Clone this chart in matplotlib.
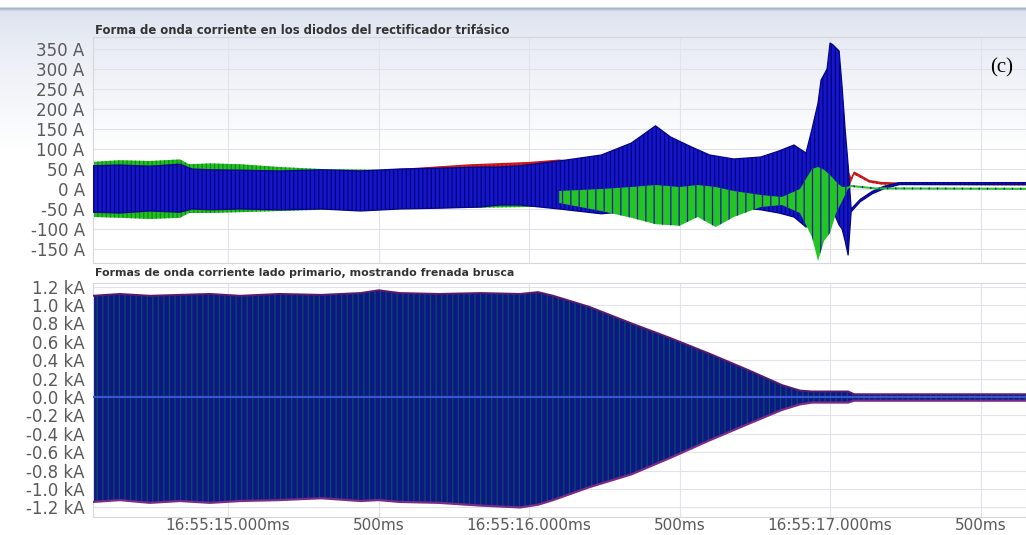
import numpy as np
import matplotlib.pyplot as plt

# time axis: seconds after 16:55
t_min, t_max = 14.551, 17.651
tick_s = [15.0, 15.5, 16.0, 16.5, 17.0, 17.5]
tick_labels = ['16:55:15.000ms', '500ms', '16:55:16.000ms', '500ms', '16:55:17.000ms', '500ms']

# --- rectifier diode currents (A), envelope of each trace ---
blue_t = [14.551, 14.64, 14.74, 14.84, 14.88, 14.94, 15.04, 15.17, 15.31, 15.44, 15.57,
          15.70, 15.84, 15.90, 15.97, 16.10, 16.24, 16.34, 16.42, 16.47, 16.54, 16.60,
          16.68, 16.77, 16.83, 16.88, 16.92, 16.94, 16.96, 16.97, 16.99, 17.00, 17.01,
          17.03, 17.04, 17.05, 17.06, 17.07, 17.10, 17.14, 17.18, 17.23, 17.651]
blue_hi = [58, 60, 57, 62, 50, 48, 47, 45, 48, 45, 50,
           52, 55, 55, 58, 70, 85, 115, 158, 130, 105, 85,
           75, 80, 95, 110, 90, 150, 215, 272, 300, 365, 360,
           345, 255, 150, 60, -50, -26, -6, 7, 16, 16]
blue_lo = [-58, -60, -55, -58, -50, -52, -50, -52, -50, -55, -50,
           -48, -45, -40, -40, -50, -62, -55, -52, -50, -55, -48,
           -45, -52, -60, -70, -95, -90, -80, -60, -50, -70, -55,
           -90, -100, -130, -165, -57, -32, -12, 1, 11, 11]

red_t = [14.551, 15.0, 15.5, 15.80, 15.90, 16.00, 16.10, 16.20, 16.40, 16.60, 16.80,
         16.95, 17.00, 17.05, 17.07, 17.08, 17.10, 17.13, 17.17, 17.25, 17.651]
red_hi = [40, 42, 45, 60, 63, 66, 72, 66, 120, 70, 75,
          80, 150, 60, 25, 42, 34, 21, 16, 14, 13]
red_lo = [-35, -35, -35, -35, -30, -30, -35, -40, -40, -40, -45,
          -60, -60, -40, 18, 36, 28, 16, 11, 10, 9]

green_t = [14.551, 14.64, 14.74, 14.84, 14.87, 14.94, 15.04, 15.17, 15.31, 15.50,
           15.70, 16.00, 16.10]
green_hi = [68, 72, 70, 74, 62, 64, 62, 55, 50, 48, 48, 50, 40]
green_lo = [-70, -72, -75, -72, -60, -60, -58, -55, -52, -50, -48, -45, -40]

# green trace where it shows over the blue one (braking transient)
green_burst_t = [16.10, 16.24, 16.34, 16.42, 16.50, 16.56, 16.62, 16.68, 16.77, 16.84,
                 16.90, 16.94, 16.96, 16.98, 17.00, 17.02, 17.04, 17.06, 17.07, 17.15, 17.651]
green_burst_hi = [-5, 0, 5, 10, 5, 10, 5, -5, -15, -20,
                  0, 50, 55, 48, 35, 18, 5, 6, 10, 4, 3]
green_burst_lo = [-35, -55, -72, -88, -92, -70, -95, -70, -45, -40,
                  -60, -120, -180, -130, -110, -60, -30, 1, 5, -1, -2]

top_ticks = [350, 300, 250, 200, 150, 100, 50, 0, -50, -100, -150]

# --- primary side current (kA), envelope ---
prim_t = [14.551, 14.64, 14.74, 14.84, 14.94, 15.04, 15.17, 15.31, 15.44, 15.50, 15.57,
          15.70, 15.84, 15.97, 16.03, 16.08, 16.20, 16.34, 16.47, 16.60, 16.73, 16.84,
          16.90, 16.94, 17.06, 17.08, 17.651]
prim_hi = [1.10, 1.12, 1.10, 1.11, 1.12, 1.10, 1.12, 1.11, 1.13, 1.16, 1.13,
           1.12, 1.13, 1.12, 1.14, 1.10, 0.98, 0.80, 0.64, 0.47, 0.29, 0.13,
           0.07, 0.06, 0.06, 0.03, 0.03]
prim_lo = [-1.14, -1.12, -1.15, -1.13, -1.15, -1.13, -1.12, -1.10, -1.13, -1.12, -1.14,
           -1.15, -1.18, -1.20, -1.17, -1.12, -0.98, -0.84, -0.66, -0.47, -0.29, -0.14,
           -0.08, -0.06, -0.06, -0.04, -0.04]

bot_ticks = [1.2, 1.0, 0.8, 0.6, 0.4, 0.2, 0.0, -0.2, -0.4, -0.6, -0.8, -1.0, -1.2]

plt.rcParams['font.family'] = ['DejaVu Sans']
plt.rcParams['hatch.linewidth'] = 0.9

fig = plt.figure(figsize=(10.26, 5.35), dpi=100)

# window background: thin header band, then pale blue fading to white
bg = fig.add_axes([0, 0, 1, 1], zorder=-10)
rows = np.arange(535)
ys = [0, 6, 8, 11, 40, 150, 535]
chan = [np.interp(rows, ys, c) for c in (
    [1, 1, 0.67, 0.87, 0.91, 1, 1],
    [1, 1, 0.70, 0.89, 0.925, 1, 1],
    [1, 1, 0.78, 0.935, 0.957, 1, 1])]
grad = np.stack(chan, axis=-1)[:, None, :].repeat(2, axis=1)
bg.imshow(grad, aspect='auto', extent=[0, 1, 0, 1])
bg.axis('off')

ax1 = fig.add_axes([93 / 1026, 1 - 263 / 535, 933 / 1026, 226 / 535])
ax2 = fig.add_axes([93 / 1026, 1 - 517 / 535, 933 / 1026, 234 / 535])

for ax in (ax1, ax2):
    ax.set_facecolor('none')
    ax.set_xlim(t_min, t_max)
    ax.set_xticks(tick_s)
    ax.grid(True, color='#e2e2ea', lw=0.8)
    ax.set_axisbelow(True)
    ax.tick_params(axis='y', length=0, labelsize=12, labelcolor='#5a5a5a', pad=6)
    ax.tick_params(axis='x', length=0, labelsize=11, labelcolor='#5a5a5a', pad=1)
    for s in ax.spines.values():
        s.set_color('#d6d6de')
        s.set_linewidth(0.8)

# top panel
ax1.fill_between(green_t, green_lo, green_hi, facecolor='#22c022', edgecolor='#138a13',
                 hatch='||||', lw=0, zorder=2)
ax1.fill_between(red_t, red_lo, red_hi, facecolor='#d82020', edgecolor='#9a1010',
                 hatch='||||', lw=0, zorder=3)
ax1.plot(red_t, red_hi, color='#c81818', lw=1.0, zorder=3)
ax1.fill_between(blue_t, blue_lo, blue_hi, facecolor='#1515cc', edgecolor='#05057a',
                 hatch='||||', lw=0, zorder=4)
ax1.plot(blue_t, blue_hi, color='#05058a', lw=0.9, zorder=4)
ax1.plot(blue_t, blue_lo, color='#05058a', lw=0.9, zorder=4)
ax1.fill_between(green_burst_t, green_burst_lo, green_burst_hi, facecolor='#24c424',
                 edgecolor='#1818a8', hatch='||', lw=0, zorder=5)

ax1.set_ylim(-185, 380)
ax1.set_yticks(top_ticks)
ax1.set_yticklabels([f'{v} A' for v in top_ticks])
ax1.tick_params(axis='x', labelbottom=False)
ax1.text(0.002, 1.027, 'Forma de onda corriente en los diodos del rectificador trifásico',
         transform=ax1.transAxes, fontsize=8.4, fontweight='bold', color='#333333',
         va='center', ha='left')
ax1.text(0.974, 0.863, '(c)', transform=ax1.transAxes, fontsize=15,
         family='Liberation Serif', ha='center', va='center', zorder=6)

# bottom panel
ax2.fill_between(prim_t, prim_lo, prim_hi, facecolor='#0b1886', edgecolor='#0e4a60',
                 hatch='|||', lw=0, zorder=2)
ax2.plot(prim_t, prim_hi, color='#5a1a6e', lw=1.4, zorder=3)
ax2.plot(prim_t, prim_lo, color='#7a2a88', lw=1.6, zorder=3)
ax2.axhline(0, color='#3656d0', lw=1.6, zorder=4)

ax2.set_ylim(-1.304, 1.239)
ax2.set_yticks(bot_ticks)
ax2.set_yticklabels([f'{v:.1f} kA'.replace('-0.0', '0.0') for v in bot_ticks])
ax2.set_xticklabels(tick_labels)
ax2.text(0.002, 1.043, 'Formas de onda corriente lado primario, mostrando frenada brusca',
         transform=ax2.transAxes, fontsize=7.9, fontweight='bold', color='#333333',
         va='center', ha='left')

fig.savefig('out.png', dpi=100)
